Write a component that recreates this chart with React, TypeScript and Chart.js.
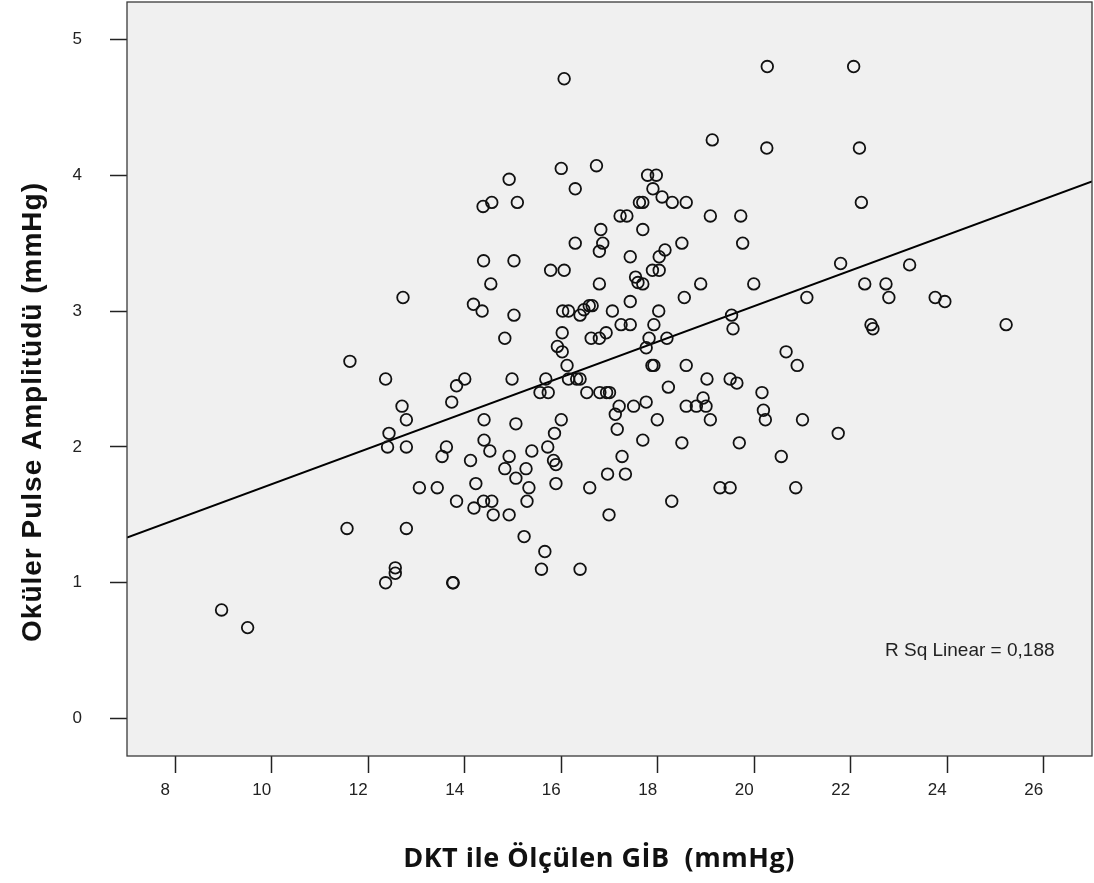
import React, { useEffect, useRef } from "react";
import { Chart, registerables } from "chart.js";

Chart.register(...registerables);

// DKT ile Ölçülen GİB (mmHg)
const DKT_GIB = [
  8.96, 9.5, 11.56, 11.62, 12.36, 12.43, 12.4, 12.36, 12.56, 12.56,
  12.72, 12.7, 12.79, 12.79, 12.79, 13.06, 13.43, 13.53, 13.62, 13.73,
  13.83, 14.0, 13.75, 13.76, 13.83, 14.12, 14.18, 14.19, 14.23, 14.36,
  14.38, 14.56, 14.39, 14.54, 14.4, 14.4, 14.52, 14.39, 14.56, 14.59,
  14.83, 14.83, 14.92, 14.92, 14.92, 14.98, 15.02, 15.02, 15.06, 15.09,
  15.06, 15.23, 15.27, 15.29, 15.33, 15.39, 15.56, 15.59, 15.66, 15.68,
  15.73, 15.72, 15.78, 15.84, 15.86, 15.89, 15.89, 15.92, 16.0, 16.06,
  16.0, 16.02, 16.02, 16.06, 16.03, 16.12, 16.15, 16.15, 16.29, 16.29,
  16.32, 16.39, 16.39, 16.39, 16.47, 16.58, 16.64, 16.53, 16.59, 16.62,
  16.73, 16.79, 16.79, 16.79, 16.82, 16.86, 16.8, 16.93, 16.94, 16.96,
  16.99, 17.0, 17.06, 17.12, 17.16, 17.2, 17.22, 17.24, 17.26, 17.33,
  17.36, 17.43, 17.43, 17.43, 17.5, 17.54, 17.62, 17.59, 17.69, 17.69,
  17.69, 17.69, 17.76, 17.76, 17.79, 17.82, 17.89, 17.88, 17.9, 17.92,
  17.92, 17.97, 18.03, 17.99, 18.02, 18.03, 18.09, 18.15, 18.19, 18.22,
  18.29, 18.3, 18.5, 18.5, 18.55, 18.59, 18.59, 18.59, 18.8, 18.89,
  18.94, 19.0, 19.02, 19.09, 19.13, 19.09, 19.29, 19.5, 19.5, 19.53,
  19.56, 19.64, 19.69, 19.72, 19.76, 19.99, 20.16, 20.19, 20.23, 20.27,
  20.26, 20.66, 20.56, 20.86, 20.89, 21.0, 21.09, 21.74, 21.79, 22.06,
  22.18, 22.22, 22.29, 22.42, 22.46, 22.73, 22.79, 23.22, 23.75, 23.95,
  25.22,
];

// Oküler Pulse Amplitüdü (mmHg)
const OPA = [
  0.8, 0.67, 1.4, 2.63, 2.5, 2.1, 2.0, 1.0, 1.07, 1.11,
  3.1, 2.3, 2.2, 2.0, 1.4, 1.7, 1.7, 1.93, 2.0, 2.33,
  2.45, 2.5, 1.0, 1.0, 1.6, 1.9, 3.05, 1.55, 1.73, 3.0,
  3.77, 3.8, 3.37, 3.2, 2.2, 2.05, 1.97, 1.6, 1.6, 1.5,
  2.8, 1.84, 3.97, 1.93, 1.5, 2.5, 3.37, 2.97, 2.17, 3.8,
  1.77, 1.34, 1.84, 1.6, 1.7, 1.97, 2.4, 1.1, 1.23, 2.5,
  2.4, 2.0, 3.3, 1.9, 2.1, 1.87, 1.73, 2.74, 4.05, 4.71,
  2.2, 2.7, 2.84, 3.3, 3.0, 2.6, 3.0, 2.5, 3.9, 3.5,
  2.5, 2.5, 1.1, 2.97, 3.01, 3.04, 3.04, 2.4, 1.7, 2.8,
  4.07, 2.8, 3.2, 3.44, 3.6, 3.5, 2.4, 2.84, 2.4, 1.8,
  1.5, 2.4, 3.0, 2.24, 2.13, 2.3, 3.7, 2.9, 1.93, 1.8,
  3.7, 2.9, 3.07, 3.4, 2.3, 3.25, 3.8, 3.21, 3.6, 3.2,
  2.05, 3.8, 2.73, 2.33, 4.0, 2.8, 3.3, 2.6, 3.9, 2.6,
  2.9, 4.0, 3.3, 2.2, 3.0, 3.4, 3.84, 3.45, 2.8, 2.44,
  1.6, 3.8, 3.5, 2.03, 3.1, 3.8, 2.6, 2.3, 2.3, 3.2,
  2.36, 2.3, 2.5, 2.2, 4.26, 3.7, 1.7, 1.7, 2.5, 2.97,
  2.87, 2.47, 2.03, 3.7, 3.5, 3.2, 2.4, 2.27, 2.2, 4.8,
  4.2, 2.7, 1.93, 1.7, 2.6, 2.2, 3.1, 2.1, 3.35, 4.8,
  4.2, 3.8, 3.2, 2.9, 2.87, 3.2, 3.1, 3.34, 3.1, 3.07,
  2.9,
];

// Linear fit line end points
const FIT_X = [7, 27];
const FIT_Y = [1.333, 3.955];

const X_TICKS = [8, 10, 12, 14, 16, 18, 20, 22, 24, 26];
const Y_TICKS = [0, 1, 2, 3, 4, 5];

const X_TITLE = "DKT ile Ölçülen GİB  (mmHg)";
const Y_TITLE = "Oküler Pulse Amplitüdü (mmHg)";
const R2_TEXT = "R Sq Linear = 0,188";

export default function App() {
  const ref = useRef<HTMLCanvasElement | null>(null);

  useEffect(() => {
    if (!ref.current) return;

    const decor = {
      id: "decor",
      beforeDraw(chart: any) {
        const { ctx, chartArea } = chart;
        const { left, top, right, bottom } = chartArea;
        ctx.save();
        ctx.fillStyle = "#f0f0f0";
        ctx.fillRect(left, top, right - left, bottom - top);
        ctx.restore();
      },
      afterDraw(chart: any) {
        const { ctx, chartArea } = chart;
        const { left, top, right, bottom } = chartArea;
        ctx.save();
        ctx.strokeStyle = "#3a3a3a";
        ctx.lineWidth = 1.3;
        ctx.strokeRect(left, top, right - left, bottom - top);

        // R squared annotation
        ctx.fillStyle = "#222";
        ctx.font = "19px 'Liberation Sans', Arial, sans-serif";
        ctx.textAlign = "left";
        ctx.textBaseline = "middle";
        ctx.fillText(R2_TEXT, right - 207, 651);

        // X axis title
        ctx.fillStyle = "#111";
        ctx.font = "bold 27px 'Open Sans', sans-serif";
        (ctx as any).letterSpacing = "0.5px";
        ctx.textAlign = "center";
        ctx.textBaseline = "middle";
        ctx.fillText(X_TITLE, 599, 859);

        // Y axis title
        ctx.translate(33, 412);
        ctx.rotate(-Math.PI / 2);
        ctx.font = "bold 28px 'Liberation Sans', Arial, sans-serif";
        (ctx as any).letterSpacing = "1px";
        ctx.fillText(Y_TITLE, 0, 0);
        ctx.restore();
      },
    };

    const tickFont = { family: "'Liberation Sans', Arial, sans-serif", size: 17 };

    const chart = new Chart(ref.current, {
      type: "scatter",
      data: {
        datasets: [
          {
            type: "scatter",
            data: DKT_GIB.map((x, i) => ({ x, y: OPA[i] })),
            pointRadius: 5.8,
            pointHoverRadius: 5.8,
            pointBorderWidth: 1.8,
            borderColor: "#111",
            backgroundColor: "rgba(0,0,0,0)",
            pointStyle: "circle",
          },
          {
            type: "line",
            data: FIT_X.map((x, i) => ({ x, y: FIT_Y[i] })),
            borderColor: "#000",
            borderWidth: 2,
            pointRadius: 0,
            fill: false,
          } as any,
        ],
      },
      options: {
        animation: false,
        responsive: true,
        maintainAspectRatio: false,
        layout: { autoPadding: false, padding: { top: 2, right: 2, bottom: 0, left: 0 } },
        plugins: {
          legend: { display: false },
          tooltip: { enabled: false },
          title: { display: false },
        },
        scales: {
          x: {
            type: "linear",
            min: 7,
            max: 27,
            afterBuildTicks: (s: any) => {
              s.ticks = X_TICKS.map((v) => ({ value: v }));
            },
            afterFit: (s: any) => {
              s.height = 127;
              s.paddingLeft = 0;
              s.paddingRight = 0;
            },
            border: { display: false },
            grid: {
              drawOnChartArea: false,
              drawTicks: true,
              tickLength: 17,
              tickColor: "#222",
              tickWidth: 1.5,
            },
            ticks: {
              font: tickFont,
              color: "#222",
              padding: 7,
              labelOffset: -10,
              maxRotation: 0,
              autoSkip: false,
            },
          },
          y: {
            type: "linear",
            min: -0.275,
            max: 5.275,
            afterBuildTicks: (s: any) => {
              s.ticks = Y_TICKS.map((v) => ({ value: v }));
            },
            afterFit: (s: any) => {
              s.width = 127;
              s.paddingTop = 0;
              s.paddingBottom = 0;
            },
            border: { display: false },
            grid: {
              drawOnChartArea: false,
              drawTicks: true,
              tickLength: 17,
              tickColor: "#222",
              tickWidth: 1.5,
            },
            ticks: {
              font: tickFont,
              color: "#222",
              padding: 28,
              autoSkip: false,
            },
          },
        },
      } as any,
      plugins: [decor],
    });

    return () => chart.destroy();
  }, []);

  return (
    <div
      style={{
        position: "fixed",
        left: 0,
        top: 0,
        width: 1094,
        height: 883,
        background: "#fff",
      }}
    >
      <canvas ref={ref} />
    </div>
  );
}
